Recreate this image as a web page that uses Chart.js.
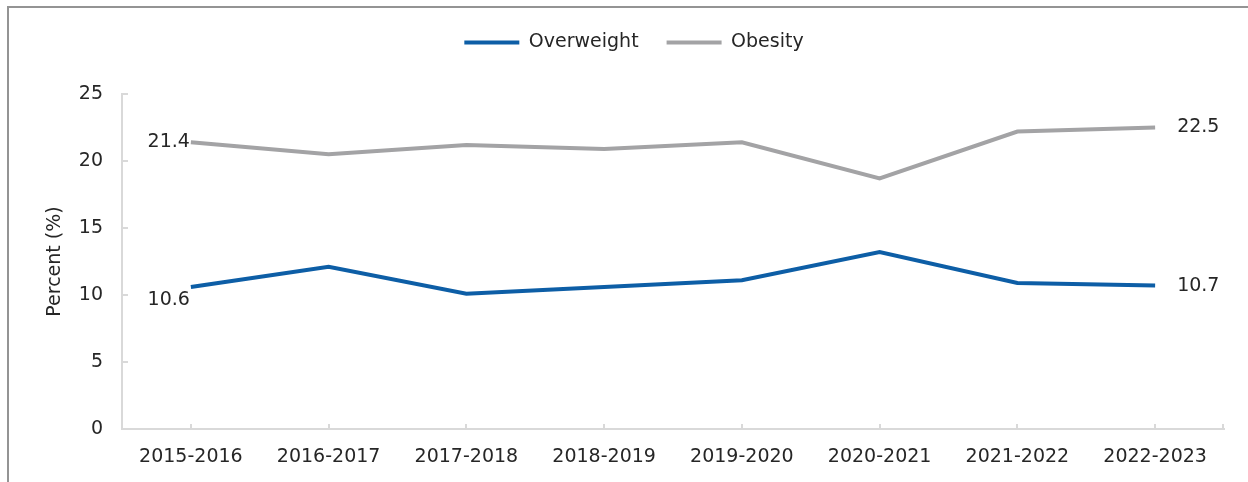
<!DOCTYPE html>
<html>
<head>
<meta charset="utf-8">
<script src="https://cdn.jsdelivr.net/npm/chart.js@4.4.1/dist/chart.umd.min.js"></script>
<style>
    html, body { margin: 0; padding: 0; background: #fff; }
    #wrap { position: relative; width: 1248px; height: 482px; }
    #frame { position: absolute; left: 7px; top: 6px; right: 0; bottom: 0;
             border-left: 2px solid #949494; border-top: 2px solid #949494; }
    #myChart { position: absolute; left: 0; top: 0; }
</style>
</head>
<body>
<div id="wrap">
    <div id="frame"></div>
    <canvas id="myChart" width="1248" height="482"></canvas>
</div>
<script>
// setup
const years = ['2015-2016', '2016-2017', '2017-2018', '2018-2019',
               '2019-2020', '2020-2021', '2021-2022', '2022-2023'];
const overweight = [10.6, 12.1, 10.1, 10.6, 11.1, 13.2, 10.9, 10.7];
const obesity = [21.4, 20.5, 21.2, 20.9, 21.4, 18.7, 22.2, 22.5];
const yTicks = [0, 5, 10, 15, 20, 25];

const FONT = 'DejaVu Sans';
const TEXT = '#262626';
const AXIS = '#d9d9d9';

Chart.defaults.font.family = FONT;
Chart.defaults.font.size = 19;
Chart.defaults.color = TEXT;

// small inward tick marks on both axes
const innerTicks = {
    id: 'innerTicks',
    afterDatasetsDraw(chart) {
        const ctx = chart.ctx;
        const x = chart.scales.x, y = chart.scales.y;
        ctx.save();
        ctx.strokeStyle = AXIS;
        ctx.lineWidth = 2;
        ctx.beginPath();
        x.ticks.forEach((t, i) => {
            const px = Math.round(x.getPixelForTick(i));
            ctx.moveTo(px, y.bottom);
            ctx.lineTo(px, y.bottom - 5);
        });
        ctx.moveTo(x.right - 1, y.bottom);
        ctx.lineTo(x.right - 1, y.bottom - 5);
        y.ticks.forEach((t, i) => {
            const py = Math.round(y.getPixelForTick(i));
            ctx.moveTo(x.left, py);
            ctx.lineTo(x.left + 6, py);
        });
        ctx.stroke();
        ctx.restore();
    }
};

// values at the first and last point of each line
const endLabels = {
    id: 'endLabels',
    afterDatasetsDraw(chart) {
        const ctx = chart.ctx;
        ctx.save();
        ctx.font = '19px ' + FONT;
        ctx.fillStyle = TEXT;
        ctx.textBaseline = 'middle';
        chart.data.datasets.forEach((ds, di) => {
            const pts = chart.getDatasetMeta(di).data;
            const first = pts[0], last = pts[pts.length - 1];
            ctx.textAlign = 'right';
            ctx.fillText(ds.data[0].toFixed(1), first.x - 1, first.y + ds.firstDy);
            ctx.textAlign = 'left';
            ctx.fillText(ds.data[ds.data.length - 1].toFixed(1), last.x + 22, last.y);
        });
        ctx.restore();
    }
};

// legend gets a fixed height so the plot starts at the same spot
const legendHeight = {
    id: 'legendHeight',
    afterInit(chart) {
        const fit = chart.legend.fit;
        chart.legend.fit = function () {
            fit.call(this);
            this.height = 89;
        };
    }
};

const data = {
    labels: years,
    datasets: [{
        label: 'Overweight',
        data: overweight,
        borderColor: '#0d5ea6',
        backgroundColor: '#0d5ea6',
        borderWidth: 4,
        pointRadius: 0,
        firstDy: 13
    }, {
        label: 'Obesity',
        data: obesity,
        borderColor: '#a3a3a5',
        backgroundColor: '#a3a3a5',
        borderWidth: 4,
        pointRadius: 0,
        firstDy: 0
    }]
};

const config = {
    type: 'line',
    data: data,
    plugins: [innerTicks, endLabels, legendHeight],
    options: {
        responsive: false,
        animation: false,
        layout: { padding: { top: 5, left: 44, right: 24, bottom: 0 } },
        plugins: {
            tooltip: { enabled: false },
            legend: {
                position: 'top',
                labels: {
                    boxWidth: 55,
                    boxHeight: 4,
                    padding: 28,
                    font: { size: 19 },
                    generateLabels(chart) {
                        return Chart.defaults.plugins.legend.labels.generateLabels(chart)
                            .map(l => Object.assign(l, { lineWidth: 0, fillStyle: l.strokeStyle }));
                    }
                }
            }
        },
        scales: {
            x: {
                offset: true,
                grid: { display: false, drawTicks: false },
                border: { color: AXIS, width: 2 },
                ticks: { padding: 17, maxRotation: 0, color: TEXT },
                afterFit(scale) { scale.height = 53; }
            },
            y: {
                min: 0,
                max: 25,
                afterBuildTicks(scale) { scale.ticks = yTicks.map(v => ({ value: v })); },
                grid: { display: false, drawTicks: false },
                border: { color: AXIS, width: 2 },
                ticks: { padding: 19, color: TEXT },
                title: { display: true, text: 'Percent (%)', color: TEXT, font: { size: 19 }, padding: 0 },
                afterFit(scale) { scale.width = 78; }
            }
        }
    }
};

// render init block
const myChart = new Chart(document.getElementById('myChart'), config);
</script>
</body>
</html>
